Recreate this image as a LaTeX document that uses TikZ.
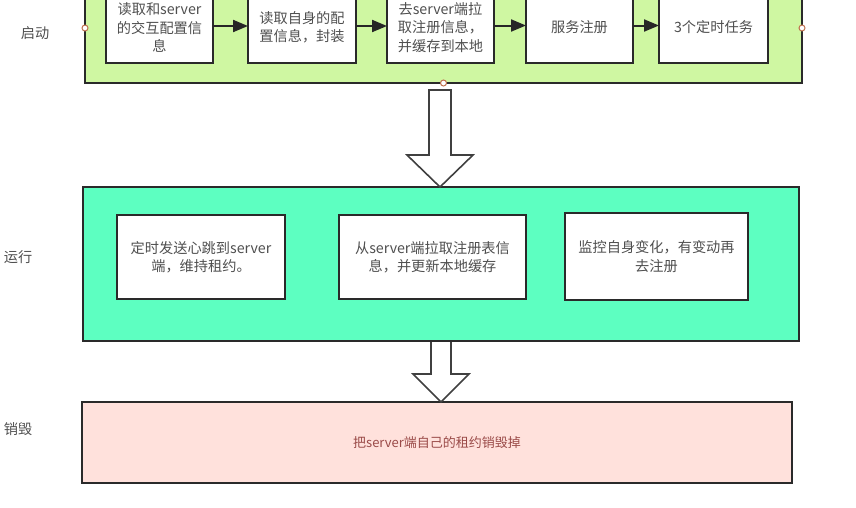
\documentclass[tikz,border=0pt]{standalone}
\usepackage{fontspec}
\setmainfont{Noto Sans CJK SC}
\usetikzlibrary{calc,arrows.meta}
\definecolor{topg}{HTML}{CFF7A2}
\definecolor{rung}{HTML}{5DFFC1}
\definecolor{endp}{HTML}{FFE1DC}
\definecolor{txt}{HTML}{4F4F4F}
\definecolor{endtxt}{HTML}{9A4A48}
\definecolor{edge}{HTML}{2A2A2A}
\definecolor{ptc}{HTML}{C0714E}
\tikzset{
  frame/.style={draw=edge, line width=1.6pt, inner sep=0pt, outer sep=0pt},
  tbox/.style={draw=edge, fill=white, line width=2pt, inner sep=0pt, outer sep=0pt,
    align=center, text=txt, font=\fontsize{14.2}{18.5}\selectfont},
  lbl/.style={text=txt, font=\fontsize{14.2}{18}\selectfont},
  flow/.style={draw=black!85, line width=2pt, -{Triangle[length=15pt,width=12pt]}},
  hollow/.style={draw=black!75, line width=1.6pt, fill=white, line join=miter},
  cpt/.style={circle, draw=ptc, fill=white, line width=1pt, minimum size=6pt, inner sep=0pt},
}
\begin{document}
\begin{tikzpicture}[x=1pt,y=-1pt]
\useasboundingbox (0,0) rectangle (856,507);
\clip (0,0) rectangle (856,507);
% start stage
\node[frame, fill=topg, anchor=south west, minimum width=717pt, minimum height=110pt] (start) at (85,83) {};
\node[tbox, anchor=south west, minimum width=107pt, minimum height=71pt] (s1) at (106,63) {读取和server\\的交互配置信\\息};
\node[tbox, anchor=south west, minimum width=108pt, minimum height=71pt] (s2) at (248,63) {读取自身的配\\置信息，封装};
\node[tbox, anchor=south west, minimum width=107pt, minimum height=71pt] (s3) at (387,63) {去server端拉\\取注册信息，\\并缓存到本地};
\node[tbox, anchor=south west, minimum width=107pt, minimum height=71pt] (s4) at (526,63) {服务注册};
\node[tbox, anchor=south west, minimum width=109pt, minimum height=71pt] (s5) at (659,63) {3个定时任务};
\draw[flow] ($(s1.east)+(0,-1.5)$) -- ($(s2.west)+(0,-1.5)$);
\draw[flow] ($(s2.east)+(0,-1.5)$) -- ($(s3.west)+(0,-1.5)$);
\draw[flow] ($(s3.east)+(0,-2)$) -- ($(s4.west)+(0,-2)$);
\draw[flow] ($(s4.east)+(0,-2)$) -- ($(s5.west)+(0,-2)$);
\node[cpt] (pw) at (start.west) {};
\node[cpt] (pe) at (start.east) {};
\node[lbl] (lstart) at (35,33) {启动};
% run stage
\node[frame, fill=rung, anchor=north west, minimum width=716pt, minimum height=154pt] (run) at (83,187) {};
\node[tbox, anchor=north west, minimum width=168pt, minimum height=84pt] (r1) at (117,215) {定时发送心跳到server\\端，维持租约。};
\node[tbox, anchor=north west, minimum width=187pt, minimum height=84pt] (r2) at (339,215) {从server端拉取注册表信\\息，并更新本地缓存};
\node[tbox, anchor=north west, minimum width=183pt, minimum height=87pt] (r3) at (565,213) {监控自身变化，有变动再\\去注册};
\node[lbl] (lrun) at (18,257) {运行};
% end stage
\node[frame, fill=endp, anchor=north west, minimum width=710pt, minimum height=81pt,
  text=endtxt, font=\fontsize{13}{16}\selectfont] (end) at (82,402) {把server端自己的租约销毁掉};
\node[lbl] (lend) at (18,429) {销毁};
% hollow arrows
\coordinate (a1) at ($(start.south -| run.north)+(-1,0)$);
\coordinate (b1) at ($(run.north)+(-1,0)$);
\draw[hollow] ($(a1)+(-11,7)$) -- ($(b1)+(-11,-32)$) -- ($(b1)+(-33,-32)$) -- (b1)
  -- ($(b1)+(33,-32)$) -- ($(b1)+(11,-32)$) -- ($(a1)+(11,7)$) -- cycle;
\node[cpt] (ps) at (start.south) {};
\coordinate (a2) at ($(run.south)+(0,0)$);
\coordinate (b2) at ($(end.north -| run.south)$);
\draw[hollow] ($(a2)+(-10,1)$) -- ($(b2)+(-10,-28)$) -- ($(b2)+(-28,-28)$) -- (b2)
  -- ($(b2)+(28,-28)$) -- ($(b2)+(10,-28)$) -- ($(a2)+(10,1)$);
\end{tikzpicture}
\end{document}
